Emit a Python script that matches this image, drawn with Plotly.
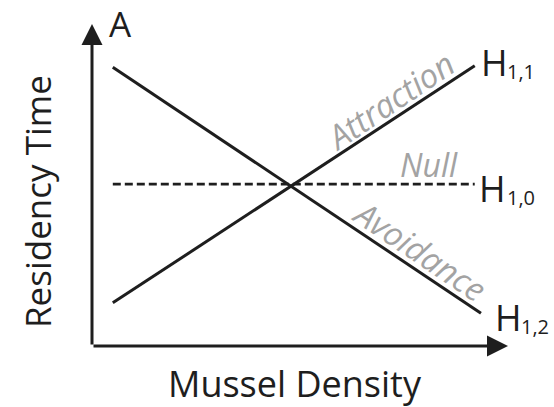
import plotly.graph_objects as go

# ---- data (conceptual hypotheses) ----
density = [0.5, 9.2]
attraction = [1.34, 8.70]
density_av = [0.5, 9.35]
avoidance = [8.66, 1.02]
null_res = [5.03, 5.03]

hyp_labels = ["H", "H", "H"]
hyp_subs = ["1,1", "1,0", "1,2"]
curve_names = ["Attraction", "Null", "Avoidance"]
x_title = "Mussel Density"
y_title = "Residency Time"
panel = "A"

W, H = 554, 407
L, R, T, B = 92, 46, 24, 61
PW, PH = W - L - R, H - T - B

def P(px, py):
    return dict(x=(px - L) / PW, y=(H - B - py) / PH, xref="paper", yref="paper")

FONT = "Open Sans"
DARK = "#1e1e1e"
GREY = "#a3a3a3"

fig = go.Figure()
fig.add_trace(go.Scatter(x=density, y=attraction, mode="lines",
                         line=dict(color=DARK, width=3), hoverinfo="skip"))
fig.add_trace(go.Scatter(x=density_av, y=avoidance, mode="lines",
                         line=dict(color=DARK, width=3), hoverinfo="skip"))
fig.add_trace(go.Scatter(x=density, y=null_res, mode="lines",
                         line=dict(color=DARK, width=2.8, dash="8px,4px"), hoverinfo="skip"))

ann = []
# axes with arrows
ann.append(dict(x=0, y=10, ax=0, ay=0, xref="x", yref="y", axref="x", ayref="y",
                text="", showarrow=True, arrowhead=2, arrowsize=1.4, arrowwidth=3,
                arrowcolor=DARK))
ann.append(dict(x=10, y=0, ax=0, ay=0, xref="x", yref="y", axref="x", ayref="y",
                text="", showarrow=True, arrowhead=2, arrowsize=1.4, arrowwidth=3,
                arrowcolor=DARK))

def txt(s, px, py, size, color=DARK, angle=0, xanchor="center", italic=False):
    d = P(px, py)
    d.update(text=s, showarrow=False, textangle=angle, xanchor=xanchor, yanchor="middle",
             font=dict(family=FONT, size=size, color=color,
                       style="italic" if italic else "normal"))
    ann.append(d)

txt(panel, 120, 23, 35)
txt(x_title, 295, 384, 36)
txt(y_title, 37, 202, 35, angle=-90)

# hypothesis labels
txt(hyp_labels[0], 479, 63, 36, xanchor="left")
txt(hyp_subs[0], 505, 71, 20, xanchor="left")
txt(hyp_labels[1], 477, 188, 36, xanchor="left")
txt(hyp_subs[1], 505, 197, 20, xanchor="left")
txt(hyp_labels[2], 493, 317, 36, xanchor="left")
txt(hyp_subs[2], 519, 326, 20, xanchor="left")

# curve names
txt(curve_names[0], 390, 100, 33, color=GREY, angle=-34, italic=True)
txt(curve_names[1], 429, 164, 32, color=GREY, italic=True)
txt(curve_names[2], 420, 250, 33, color=GREY, angle=34, italic=True)

fig.update_layout(
    width=W, height=H, margin=dict(l=L, r=R, t=T, b=B),
    paper_bgcolor="white", plot_bgcolor="white", showlegend=False,
    xaxis=dict(range=[0, 10], visible=False, fixedrange=True),
    yaxis=dict(range=[0, 10], visible=False, fixedrange=True),
    annotations=ann,
)
fig.write_html("out.html", config={"displayModeBar": False},
               post_script="document.body.style.margin='0';document.body.style.overflow='hidden';")
